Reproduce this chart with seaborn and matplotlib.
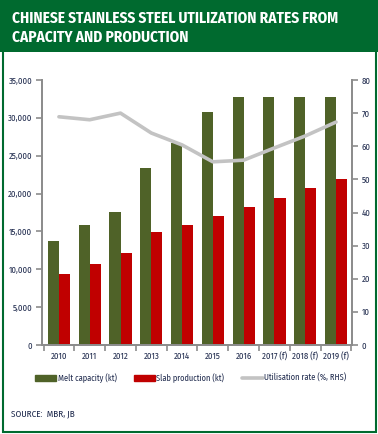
import numpy as np
import pandas as pd
import matplotlib
matplotlib.use("Agg")
import matplotlib.pyplot as plt
import seaborn as sns
from matplotlib.patches import Rectangle
from matplotlib.lines import Line2D
from matplotlib.ticker import FuncFormatter, MultipleLocator, FixedLocator

years = ["2010", "2011", "2012", "2013", "2014", "2015", "2016", "2017 (f)", "2018 (f)", "2019 (f)"]
melt_capacity = [13700, 15800, 17600, 23400, 26700, 30800, 32700, 32700, 32700, 32700]
slab_production = [9400, 10700, 12200, 14900, 15800, 17000, 18200, 19400, 20700, 21900]
utilisation = [68.9, 68.0, 70.0, 64.0, 60.4, 55.3, 55.8, 59.5, 63.1, 67.3]
series_names = ["Melt capacity (kt)", "Slab production (kt)", "Utilisation rate (%, RHS)"]

sns.set_style("white")
plt.rcParams['font.family'] = ['Fira Sans Condensed', 'DejaVu Sans']

GREEN_BAND = "#006a2f"
OLIVE = "#4f6228"
RED = "#c00000"
GREY_LINE = "#c3c3c3"
AXIS = "#8c8c8c"
TXT = "#1f2a4d"

df = pd.DataFrame({
    "year": years * 2,
    "value": melt_capacity + slab_production,
    "series": [series_names[0]] * len(years) + [series_names[1]] * len(years),
})
dfl = pd.DataFrame({"year": years, "util": utilisation})

fig = plt.figure(figsize=(3.78, 4.34), dpi=100)
ax = fig.add_axes([42/378, 1-345/434, 310/378, 265/434])

sns.barplot(data=df, x="year", y="value", hue="series", palette=[OLIVE, RED],
            width=0.72, ax=ax, legend=False, saturation=1, edgecolor="none")
ax.set_xlim(-0.55, 9.52)
ax.set_ylim(0, 35000)
ax.yaxis.set_major_locator(MultipleLocator(5000))
ax.yaxis.set_major_formatter(FuncFormatter(lambda v, p: f"{int(v):,}"))
ax.set_xlabel("")
ax.set_ylabel("")

ax2 = ax.twinx()
sns.lineplot(data=dfl, x="year", y="util", ax=ax2, color=GREY_LINE, lw=2.6, sort=False)
ax2.set_ylim(0, 80)
ax2.yaxis.set_major_locator(MultipleLocator(10))
ax2.set_ylabel("")
ax2.set_xlabel("")
ax2.set_xlim(-0.55, 9.52)

for a in (ax, ax2):
    for s in a.spines.values():
        s.set_color(AXIS)
        s.set_linewidth(1.3)
    a.spines["top"].set_visible(False)

ax.tick_params(axis="y", which="major", direction="out", length=4, width=1.2, color=AXIS,
               labelsize=6.3, labelcolor=TXT, pad=3, left=True)
ax2.tick_params(axis="y", which="major", direction="out", length=4, width=1.2, color=AXIS,
                labelsize=6.3, labelcolor=TXT, pad=3, right=True)
ax.tick_params(axis="x", which="major", length=0, labelsize=6.3, labelcolor=TXT, pad=5)
ax.xaxis.set_minor_locator(FixedLocator(np.arange(-0.5, 10, 1.0)))
ax.tick_params(axis="x", which="minor", direction="out", length=4, width=1.2, color=AXIS, bottom=True)
ax2.tick_params(axis="x", which="both", bottom=False, top=False, labelbottom=False)

handles = [
    Rectangle((0, 0), 1, 1, color=OLIVE),
    Rectangle((0, 0), 1, 1, color=RED),
    Line2D([0], [0], color=GREY_LINE, lw=2.6),
]
fig.legend(handles, series_names, loc="center left", bbox_to_anchor=(35/378, 1-378/434),
           ncol=3, frameon=False, fontsize=6.0, labelcolor=TXT, handlelength=2.5,
           handleheight=0.65, handletextpad=0.2, columnspacing=2.1, borderaxespad=0,
           borderpad=0)

# Title band and frame
fig.patches.append(Rectangle((0, 1-52/434), 1, 52/434, transform=fig.transFigure,
                             facecolor=GREEN_BAND, edgecolor="none", zorder=0))
fig.patches.append(Rectangle((2.5/378, 2.5/434), 373/378, 429/434, transform=fig.transFigure,
                             facecolor="none", edgecolor=GREEN_BAND, lw=1.5, zorder=0))
fig.text(12/378, 1-18/434, "CHINESE STAINLESS STEEL UTILIZATION RATES FROM",
         color="white", fontsize=11, fontweight="bold", va="center", ha="left")
fig.text(12/378, 1-37/434, "CAPACITY AND PRODUCTION",
         color="white", fontsize=11, fontweight="bold", va="center", ha="left")
fig.text(11/378, 1-414/434, "SOURCE:  MBR, JB", color=TXT, fontsize=6.6, va="center", ha="left")

fig.savefig("out.png", dpi=100)
